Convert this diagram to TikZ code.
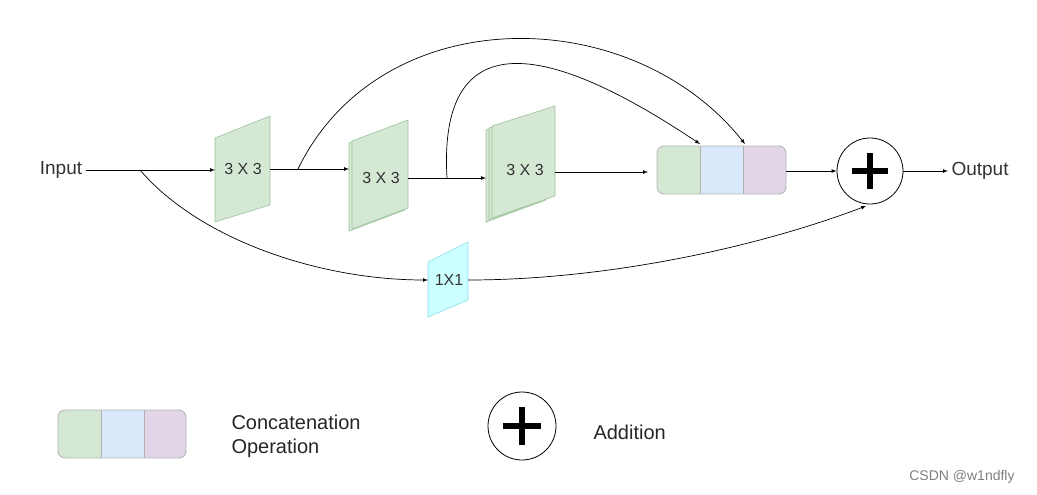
\documentclass[tikz,border=0pt]{standalone}
\usepackage{fontspec}
\setmainfont{Liberation Sans}
\definecolor{cg}{HTML}{D5E8D4}
\definecolor{cgd}{HTML}{9DC29B}
\definecolor{cb}{HTML}{DAE8FC}
\definecolor{cp}{HTML}{E1D5E7}
\definecolor{cc}{HTML}{CCFFFF}
\definecolor{ccd}{HTML}{88E0E8}
\begin{document}
\begin{tikzpicture}[x=1pt,y=-1pt,
  gf/.style={fill=cg,draw=cgd,line width=0.6pt},
  cf/.style={fill=cc,draw=ccd,line width=0.6pt},
  ar/.style={-latex,line width=0.7pt},
  lbl/.style={font=\fontsize{16}{18}\selectfont,text=black!80},
  big/.style={font=\fontsize{20}{24}\selectfont,align=left,anchor=west,text=black!85},
  plus/.style={circle,draw,line width=0.8pt,minimum size=66pt,inner sep=0pt}]
\useasboundingbox (0,0) rectangle (1037,495);
% conv blocks
\filldraw[gf] (215,138)--(270,116)--(270,205)--(215,222)--cycle;
\node[lbl] (c1) at (243,169) {3 X 3};
\filldraw[gf] (349,143)--(405,122)--(405,210)--(349,231)--cycle;
\filldraw[gf] (352,141)--(408,120)--(408,208)--(352,229)--cycle;
\node[lbl] (c2) at (381,178) {3 X 3};
\filldraw[gf] (486,130)--(546,110)--(546,200)--(486,222)--cycle;
\filldraw[gf] (489,128)--(549,108)--(549,198)--(489,220)--cycle;
\filldraw[gf] (492,126)--(555,106)--(555,196)--(492,218)--cycle;
\node[lbl] (c3) at (525,170) {3 X 3};
\filldraw[cf] (428,262)--(468,242)--(468,300)--(428,317)--cycle;
\node[lbl] (c4) at (449,280) {1X1};
% concat
\begin{scope}
\clip[rounded corners=7pt] (657,146) rectangle (786,194);
\fill[cg] (657,146) rectangle (700,194);
\fill[cb] (700,146) rectangle (743,194);
\fill[cp] (743,146) rectangle (786,194);
\draw[gray!60,line width=0.6pt] (700,146)--(700,194) (743,146)--(743,194);
\end{scope}
\draw[gray!60,line width=0.8pt,rounded corners=7pt] (657,146) rectangle (786,194);
\coordinate (catr) at (786,171);
\coordinate (cgp) at (700,144);
\coordinate (cbp) at (745,144);
\node[plus] (add) at (870,171) {};
\draw[line width=6pt] (852,171)--(888,171) (870,153)--(870,189);
\node[lbl,font=\fontsize{19}{22}\selectfont] (in) at (61,170) {Input};
\node[lbl,font=\fontsize{19}{22}\selectfont,anchor=west] (out) at (948,171) {Output};
% connectors
\coordinate (c1l) at (215,170); \coordinate (c1r) at (270,169);
\coordinate (c2l) at (349,169); \coordinate (c2r) at (408,178);
\coordinate (c3l) at (486,178); \coordinate (c3r) at (555,172);
\coordinate (c4l) at (428,280); \coordinate (c4r) at (468,280);
\coordinate (catl) at (648,172);
\coordinate (s1) at (140,170); \coordinate (s2) at (298,169); \coordinate (s3) at (447,178);
\draw[ar] (in.east) -- (c1l);
\draw[ar] (c1r) -- (c2l);
\draw[ar] (c2r) -- (c3l);
\draw[ar] (c3r) -- (catl);
\draw[ar] (catr) -- (add.west);
\draw[ar] (add.east) -- (out.west);
\draw[ar] (s1) .. controls (200,240) and (320,280) .. (c4l);
\draw[ar] (c4r) .. controls (600,280) and (750,250) .. (866,206);
\draw[ar] (s2) .. controls (380,0) and (630,0) .. (cbp);
\draw[ar] (s3) .. controls (440,60) and (500,10) .. (cgp);
% legend
\begin{scope}
\clip[rounded corners=7pt] (58,410) rectangle (186,458);
\fill[cg] (58,410) rectangle (101,458);
\fill[cb] (101,410) rectangle (144,458);
\fill[cp] (144,410) rectangle (186,458);
\draw[gray!60,line width=0.6pt] (101,410)--(101,458) (144,410)--(144,458);
\end{scope}
\draw[gray!60,line width=0.8pt,rounded corners=7pt] (58,410) rectangle (186,458);
\node[big] (lt1) at (228,436) {Concatenation\\Operation};
\node[plus,minimum size=68pt] (la) at (522,426) {};
\draw[line width=6pt] (503,426)--(541,426) (522,407)--(522,445);
\node[big] (lt2) at (590,432) {Addition};
\node[font=\fontsize{14}{16}\selectfont,text=gray] (wm) at (962,477) {CSDN @w1ndfly};
\end{tikzpicture}
\end{document}
